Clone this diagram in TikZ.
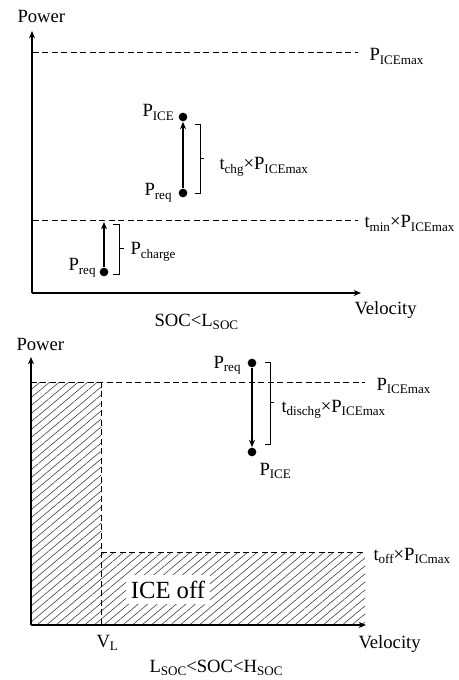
\documentclass[tikz,border=0pt]{standalone}
\usepackage{fontspec}
\setmainfont{Liberation Serif}
\usetikzlibrary{arrows.meta,patterns.meta}

\newcommand\lo[1]{\raisebox{-2.8pt}{\fontsize{9.8}{10}\selectfont #1}}

\tikzset{every picture/.style={line width=0.75pt}}
\tikzset{
  txt/.style={anchor=base west,inner sep=0.75pt,font=\fontsize{14}{16}\selectfont},
  dot/.style={circle,fill=black,inner sep=0pt,minimum size=6.5pt},
  axis/.style={line width=1.1pt,-{Stealth[length=5.5pt,width=4.5pt]}},
  lvl/.style={line width=0.75pt,dash pattern={on 4.5pt off 2.6pt}},
  arr/.style={line width=1.1pt,-{Stealth[length=5.5pt,width=4.5pt]}},
  brk/.style={line width=0.7pt},
  hatch/.style={pattern={Lines[angle=40,distance=4.6pt,line width=0.45pt]},pattern color=black!75}
}

\begin{document}
\begin{tikzpicture}[x=0.75pt,y=0.75pt,yscale=-1,xscale=1]
	\useasboundingbox (0,0) rectangle (458,680);
	
	%%% upper chart: SOC<L_SOC
	%Coordinates
	\coordinate (oA) at (32,293);
	\coordinate (yA) at (32,31);
	\coordinate (xA) at (361,293);
	\coordinate (maxAl) at (33,53);
	\coordinate (maxAr) at (358,53);
	\coordinate (minAl) at (33,221);
	\coordinate (minAr) at (358,221);
	\coordinate (chgTop) at (104,222);
	%Straight Lines
	\draw [lvl] (maxAl) -- (maxAr) ;
	\draw [lvl] (minAl) -- (minAr) ;
	%Axes
	\draw [axis] (oA) -- (yA) ;
	\draw [axis] (oA) -- (xA) ;
	%Points
	\node [dot] (iceA) at (183,117) {};
	\node [dot] (reqA) at (183,193) {};
	\node [dot] (reqB) at (104,272) {};
	%Arrows
	\draw [arr] (reqA) -- (iceA) ;
	\draw [arr] (reqB) -- (chgTop) ;
	%Brackets
	\draw [brk] (195,124) -- (200,124) -- (200,193) -- (195,193) (200,158) -- (204,158) ;
	\draw [brk] (113,224) -- (119,224) -- (119,274) -- (113,274) (119,248) -- (124,248) ;
	
	% Text Node
	\node [txt] (powA) at (16,23) {Power};
	% Text Node
	\node [txt] (pmaxA) at (368,61) {P\lo{ICEmax}};
	% Text Node
	\node [txt] (tminA) at (363,228) {t\lo{min}×P\lo{ICEmax}};
	% Text Node
	\node [txt] (liceA) at (141,117) {P\lo{ICE}};
	% Text Node
	\node [txt] (tchgA) at (218,170) {t\lo{chg}×P\lo{ICEmax}};
	% Text Node
	\node [txt] (lreqA) at (143,196) {P\lo{req}};
	% Text Node
	\node [txt] (lreqB) at (67,271) {P\lo{req}};
	% Text Node
	\node [txt] (pchgA) at (129,255) {P\lo{charge}};
	% Text Node
	\node [txt] (velA) at (353,315) {Velocity};
	% Text Node
	\node [txt] (socA) at (153,326) {SOC<L\lo{SOC}};
	
	%%% lower chart: L_SOC<SOC<H_SOC
	%Coordinates
	\coordinate (oB) at (31,625);
	\coordinate (yB) at (31,357);
	\coordinate (xB) at (366,625);
	\coordinate (maxBl) at (31,382);
	\coordinate (maxBr) at (365,382);
	\coordinate (vlTop) at (101,382);
	\coordinate (vlBot) at (101,625);
	\coordinate (offBl) at (101,552);
	\coordinate (offBr) at (365,552);
	%Shape: Hatched area
	\fill [hatch] (31,382) -- (101,382) -- (101,552) -- (365,552) -- (365,625) -- (31,625) -- cycle ;
	%Straight Lines
	\draw [lvl] (maxBl) -- (maxBr) ;
	\draw [lvl] (vlTop) -- (vlBot) ;
	\draw [lvl] (offBl) -- (offBr) ;
	%Axes
	\draw [axis] (oB) -- (yB) ;
	\draw [axis] (oB) -- (xB) ;
	%Points
	\node [dot] (reqC) at (252,363) {};
	\node [dot] (iceC) at (252,452) {};
	%Arrows
	\draw [arr] (reqC) -- (iceC) ;
	%Brackets
	\draw [brk] (265,362) -- (270,362) -- (270,444) -- (265,444) (270,402) -- (274,402) ;
	
	% Text Node
	\node [txt] (powB) at (15,350) {Power};
	% Text Node
	\node [txt] (pmaxB) at (375,390) {P\lo{ICEmax}};
	% Text Node
	\node [txt] (toffB) at (372,560) {t\lo{off}×P\lo{ICmax}};
	% Text Node
	\node [txt] (lreqC) at (212,368) {P\lo{req}};
	% Text Node
	\node [txt] (tdisB) at (280,412) {t\lo{dischg}×P\lo{ICEmax}};
	% Text Node
	\node [txt] (liceC) at (258,475) {P\lo{ICE}};
	% Text Node
	\node [txt,fill=white,inner sep=4pt,font=\fontsize{18.5}{20}\selectfont] (offB) at (125,598) {ICE off};
	% Text Node
	\node [txt] (vlB) at (95,647) {V\lo{L}};
	% Text Node
	\node [txt] (velB) at (357,648) {Velocity};
	% Text Node
	\node [txt] (socB) at (148,672) {L\lo{SOC}<SOC<H\lo{SOC}};
	
\end{tikzpicture}
\end{document}
